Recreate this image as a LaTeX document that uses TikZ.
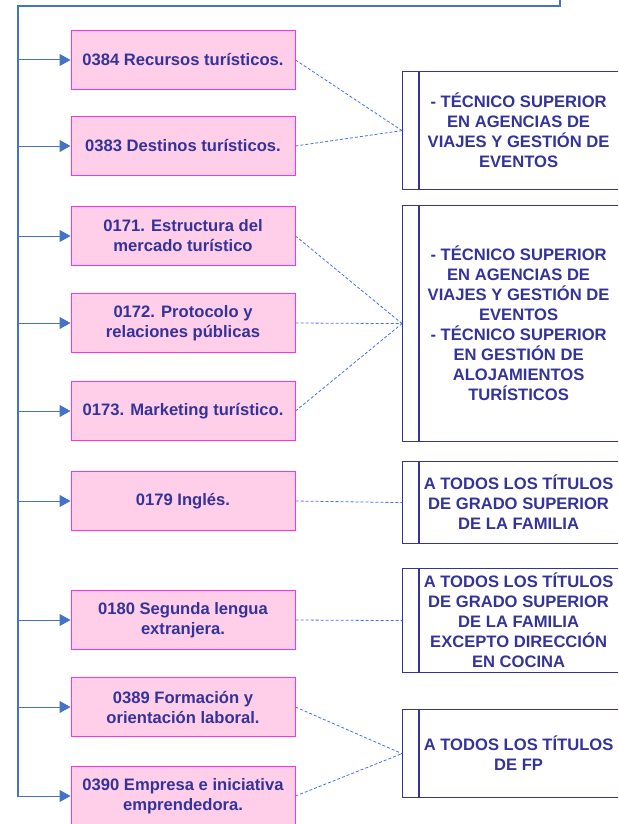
\documentclass[tikz,border=0pt]{standalone}
\usepackage{fontspec}
\setmainfont{Liberation Sans}
\usetikzlibrary{arrows.meta}
\definecolor{txt}{RGB}{51,51,153}
\definecolor{pinkfill}{RGB}{255,206,232}
\definecolor{pinkline}{RGB}{255,51,220}
\definecolor{trunkc}{RGB}{68,114,196}
\definecolor{dashc}{RGB}{70,110,250}
\definecolor{rline}{RGB}{51,51,153}
\begin{document}
\begin{tikzpicture}[x=1pt,y=-1pt,
  lbox/.style={draw=pinkline,fill=pinkfill,line width=1pt,minimum width=224pt,minimum height=59pt,inner sep=0pt,
    text=txt,font=\fontsize{16.6pt}{20pt}\selectfont\bfseries,align=center},
  rbox/.style={draw=rline,line width=1.2pt,minimum width=232pt,inner sep=0pt,anchor=north west,
    text=txt,font=\fontsize{16.6pt}{20pt}\selectfont\bfseries,align=center},
  arr/.style={draw=trunkc,line width=1pt,-{Triangle[length=11pt,width=12pt]}},
  dl/.style={draw=dashc,line width=0.8pt,dash pattern=on 3pt off 2pt}]
\useasboundingbox (0,0) rectangle (618,824);
\begin{scope}
\clip (0,0) rectangle (618,824);
% left boxes
\node[lbox] (b1) at (183,60) {0384 Recursos turísticos.};
\node[lbox] (b2) at (183,146) {0383 Destinos turísticos.};
\node[lbox] (b3) at (183,236) {0171. Estructura del\\mercado turístico};
\node[lbox] (b4) at (183,323) {0172. Protocolo y\\relaciones públicas};
\node[lbox] (b5) at (183,411) {0173. Marketing turístico.};
\node[lbox] (b6) at (183,501) {0179 Inglés.};
\node[lbox] (b7) at (183,620) {0180 Segunda lengua\\extranjera.};
\node[lbox] (b8) at (183,707) {0389 Formación y\\orientación laboral.};
\node[lbox] (b9) at (183,796) {0390 Empresa e iniciativa\\emprendedora.};
% right boxes
\node[rbox,minimum height=118pt] (r1) at (402,71) {- TÉCNICO SUPERIOR\\EN AGENCIAS DE\\VIAJES Y GESTIÓN DE\\EVENTOS};
\node[rbox,minimum height=236pt] (r2) at (402,205) {- TÉCNICO SUPERIOR\\EN AGENCIAS DE\\VIAJES Y GESTIÓN DE\\EVENTOS\\- TÉCNICO SUPERIOR\\EN GESTIÓN DE\\ALOJAMIENTOS\\TURÍSTICOS};
\node[rbox,minimum height=82pt] (r3) at (402,461) {A TODOS LOS TÍTULOS\\DE GRADO SUPERIOR\\DE LA FAMILIA};
\node[rbox,minimum height=104pt] (r4) at (402,568) {A TODOS LOS TÍTULOS\\DE GRADO SUPERIOR\\DE LA FAMILIA\\EXCEPTO DIRECCIÓN\\EN COCINA};
\node[rbox,minimum height=88pt] (r5) at (402,709) {A TODOS LOS TÍTULOS\\DE FP};
\foreach \r in {r1,r2,r3,r4,r5}{
  \draw[rline,line width=1.2pt] ([xshift=17pt]\r.north west) -- ([xshift=17pt]\r.south west);
}
% trunk
\coordinate (tb) at (18,797);
\coordinate (tc) at (18,6);
\coordinate (tr) at (560,6);
\coordinate (te) at (560,0);
\draw[trunkc,line width=1.2pt] (tb) -- (tc) -- (tr) -- (te);
\foreach \b in {b1,b2,b3,b4,b5,b6,b7,b8,b9}{
  \draw[arr] (\b.west -| tc) -- (\b.west);
}
% dashed links
\draw[dl] (b1.east) -- (r1.west);
\draw[dl] (b2.east) -- (r1.west);
\draw[dl] (b3.east) -- (r2.west);
\draw[dl] (b4.east) -- (r2.west);
\draw[dl] (b5.east) -- (r2.west);
\draw[dl] (b6.east) -- (r3.west);
\draw[dl] (b7.east) -- (r4.west);
\draw[dl] (b8.east) -- (r5.west);
\draw[dl] (b9.east) -- (r5.west);
\end{scope}
\end{tikzpicture}
\end{document}
